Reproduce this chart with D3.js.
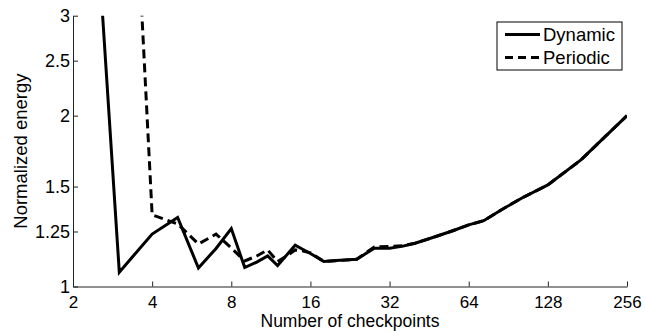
<!DOCTYPE html>
<html>
<head>
<meta charset="utf-8">
<script src="https://cdn.jsdelivr.net/npm/d3@7"></script>
<style>
  body { margin: 0; background: #fff; }
  svg text { font-family: "Liberation Sans", Arial, sans-serif; fill: #000; }
</style>
</head>
<body>
<svg class="energy_plot"></svg>
<script>
// values
const checkpoints = [2, 3, 4, 5, 6, 7, 8, 9, 10, 11, 12, 13, 14, 15, 16, 18, 20, 24, 28, 32, 36, 40, 48, 56, 64, 73, 85, 102, 128, 171, 256];

const dynamicEnergy = [19, 1.06, 1.237, 1.323, 1.078, 1.167, 1.265, 1.080, 1.104, 1.132, 1.089, 1.136, 1.183, 1.162, 1.143,
  1.107, 1.111, 1.117, 1.168, 1.168, 1.178, 1.192, 1.225, 1.255, 1.284, 1.306, 1.364, 1.432, 1.51, 1.671, 2.0];

const periodicEnergy = [null, 18, 1.337, 1.289, 1.188, 1.237, 1.169, 1.109, 1.132, 1.160, 1.107, 1.132, 1.160, 1.155, 1.146,
  1.107, 1.110, 1.117, 1.174, 1.176, 1.180, 1.192, 1.225, 1.255, 1.284, 1.306, 1.364, 1.432, 1.51, 1.671, 2.0];

const xTicks = [2, 4, 8, 16, 32, 64, 128, 256];
const yTicks = [1, 1.25, 1.5, 2, 2.5, 3];
const seriesNames = ["Dynamic", "Periodic"];

var margin = {top: 15.7, right: 18, bottom: 44.5, left: 73},
    width  = 645 - margin.left - margin.right,
    height = 331 - margin.top - margin.bottom;

var svg = d3.select("svg.energy_plot")
  .attr("width", 645)
  .attr("height", 331)
  .append("g")
  .attr("transform", `translate(${margin.left},${margin.top})`);

const x = d3.scaleLog().base(2).domain([2, 256]).range([0, width]);
const y = d3.scaleLog().domain([1, 3]).range([height, 0]);

svg.append("clipPath").attr("id", "plotclip")
  .append("rect").attr("width", width).attr("height", height);

// axes (ticks point inward, no box)
const xAxis = svg.append("g")
  .attr("transform", `translate(0,${height})`)
  .call(d3.axisBottom(x).tickValues(xTicks).tickFormat(d => d)
    .tickSizeInner(-5).tickSizeOuter(0).tickPadding(9));

const yAxis = svg.append("g")
  .call(d3.axisLeft(y).tickValues(yTicks).tickFormat(d => d)
    .tickSizeInner(-5).tickSizeOuter(0).tickPadding(3));

svg.selectAll(".domain, .tick line").attr("stroke", "#222").attr("stroke-width", 1);
xAxis.selectAll(".tick text").style("font-size", "17px").style("font-family", null);
yAxis.selectAll(".tick text").style("font-size", "18px").style("font-family", null);

// lines
const rows = checkpoints.map((n, i) => ({n: n, dyn: dynamicEnergy[i], per: periodicEnergy[i]}));

const lineDyn = d3.line().x(d => x(d.n)).y(d => y(d.dyn));
const linePer = d3.line().defined(d => d.per != null).x(d => x(d.n)).y(d => y(d.per));

const lines = svg.append("g").attr("clip-path", "url(#plotclip)");
lines.append("path")
  .datum(rows)
  .attr("d", lineDyn)
  .attr("fill", "none")
  .attr("stroke", "#000")
  .attr("stroke-width", 3);
lines.append("path")
  .datum(rows)
  .attr("d", linePer)
  .attr("fill", "none")
  .attr("stroke", "#000")
  .attr("stroke-width", 3)
  .attr("stroke-dasharray", "9,5");

// axis titles
svg.append("text")
  .attr("x", width / 2)
  .attr("y", height + 40.5)
  .attr("text-anchor", "middle")
  .style("font-size", "17.5px")
  .text("Number of checkpoints");

svg.append("text")
  .attr("transform", `translate(${27 - margin.left},${height / 2}) rotate(-90)`)
  .attr("text-anchor", "middle")
  .style("font-size", "18.5px")
  .text("Normalized energy");

// legend
const legend = svg.append("g").attr("transform", `translate(${497 - margin.left},${22 - margin.top})`);
legend.append("rect")
  .attr("width", 125).attr("height", 48)
  .attr("fill", "#fff").attr("stroke", "#000").attr("stroke-width", 1);

const item = legend.selectAll("g.item")
  .data(seriesNames)
  .join("g")
  .attr("class", "item")
  .attr("transform", (d, i) => `translate(0,${12.5 + i * 23})`);

item.append("line")
  .attr("x1", 8).attr("x2", 43)
  .attr("stroke", "#000").attr("stroke-width", 3)
  .attr("stroke-dasharray", (d, i) => i ? "8,5" : null);

item.append("text")
  .attr("x", 46)
  .attr("dy", "0.35em")
  .style("font-size", "18.5px")
  .text(d => d);
</script>
</body>
</html>
